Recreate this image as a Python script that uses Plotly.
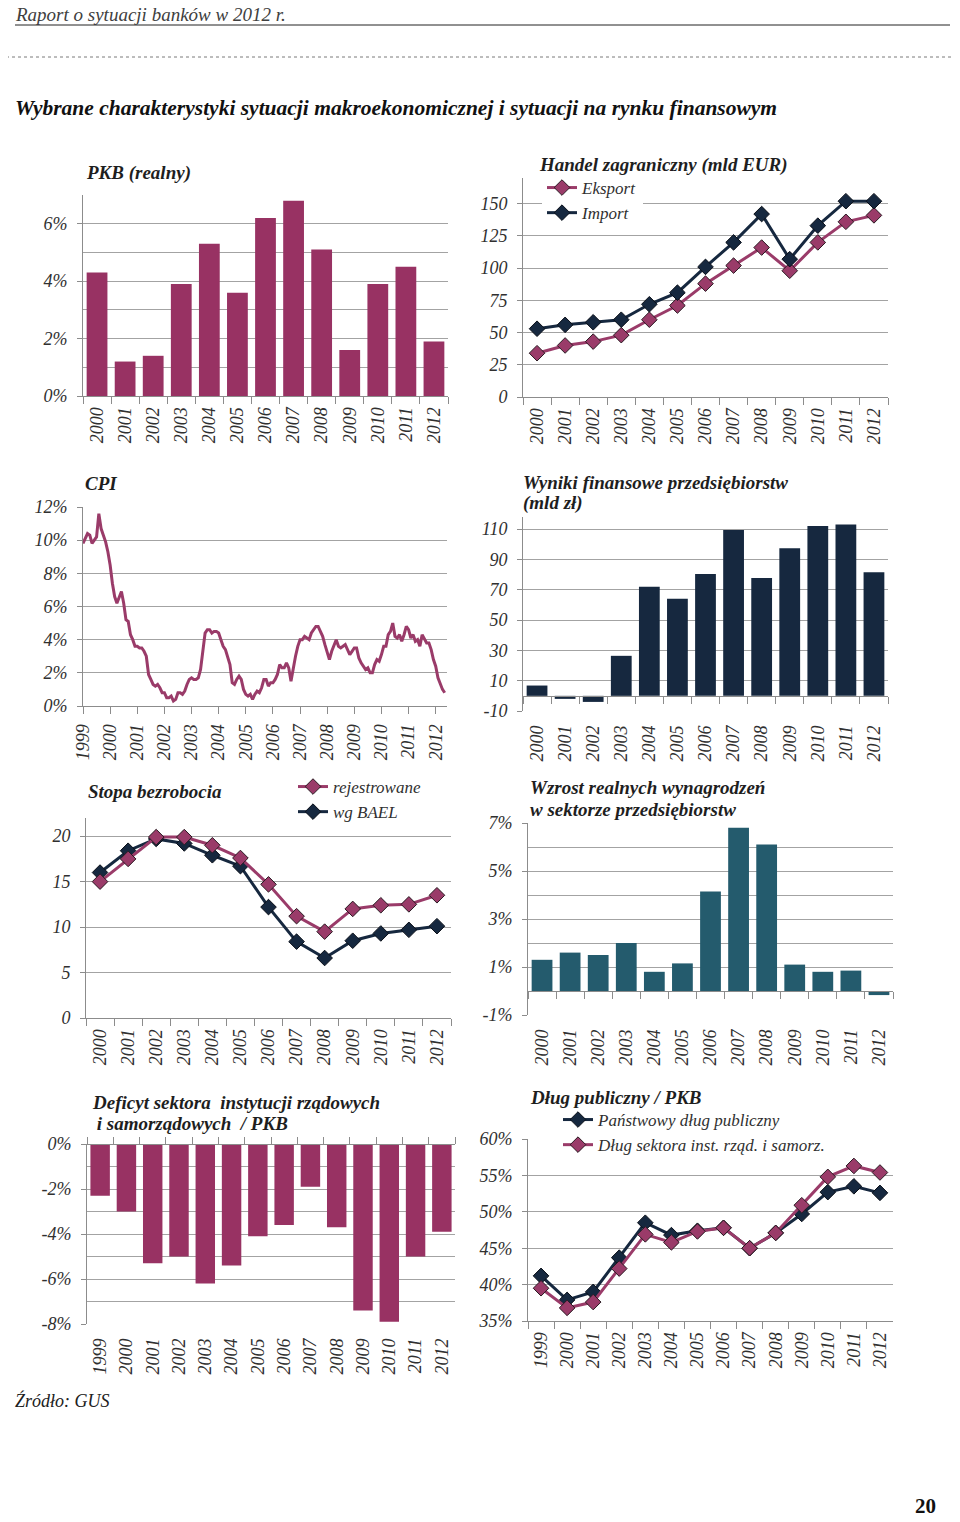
import plotly.graph_objects as go

W, H = 960, 1522

# ---------------- data ----------------
years_2000 = ["2000", "2001", "2002", "2003", "2004", "2005", "2006",
              "2007", "2008", "2009", "2010", "2011", "2012"]
years_1999 = ["1999", "2000", "2001", "2002", "2003", "2004", "2005",
              "2006", "2007", "2008", "2009", "2010", "2011", "2012"]

pkb_realny = [4.3, 1.2, 1.4, 3.9, 5.3, 3.6, 6.2, 6.8, 5.1, 1.6, 3.9, 4.5, 1.9]

eksport = [34, 40, 43, 48, 60, 71, 88, 102, 116, 98, 120, 136, 141]
import_ = [53, 56, 58, 60, 72, 81, 101, 120, 142, 107, 133, 152, 152]

cpi_monthly = [
    9.8,
    10.1, 10.4, 10.3, 9.8, 10.0, 10.2, 11.6, 10.7, 10.3, 9.9, 9.3, 8.5,
    7.4, 6.6, 6.2, 6.6, 6.9, 6.2, 5.2, 5.1, 4.3, 4.0, 3.6, 3.6,
    3.5, 3.5, 3.3, 3.0, 1.9, 1.6, 1.3, 1.2, 1.3, 1.1, 0.8, 0.8,
    0.5, 0.5, 0.6, 0.3, 0.4, 0.8, 0.8, 0.7, 0.9, 1.3, 1.6, 1.7,
    1.6, 1.6, 1.7, 2.2, 3.4, 4.4, 4.6, 4.6, 4.4, 4.5, 4.5, 4.4,
    4.0, 3.6, 3.4, 3.0, 2.5, 1.4, 1.3, 1.6, 1.8, 1.6, 1.0, 0.7,
    0.6, 0.7, 0.4, 0.7, 0.9, 0.8, 1.1, 1.6, 1.6, 1.2, 1.4, 1.4,
    1.6, 1.9, 2.5, 2.3, 2.3, 2.6, 2.3, 1.5, 2.3, 3.0, 3.6, 4.0,
    4.0, 4.2, 4.1, 4.0, 4.4, 4.6, 4.8, 4.8, 4.5, 4.2, 3.7, 3.3,
    2.8, 3.3, 3.6, 4.0, 3.6, 3.5, 3.6, 3.7, 3.4, 3.1, 3.3, 3.5,
    3.5, 2.9, 2.6, 2.4, 2.2, 2.3, 2.0, 2.0, 2.5, 2.8, 2.7, 3.1,
    3.6, 3.6, 4.3, 4.5, 5.0, 4.2, 4.1, 4.3, 3.9, 4.3, 4.8, 4.6,
    4.1, 4.3, 3.9, 4.0, 3.6, 4.3, 4.0, 3.8, 3.8, 3.4, 2.8, 2.4,
    1.7, 1.3, 1.0, 0.8,
]

wyniki_fin = [6.8, -2.0, -4.0, 26.4, 71.9, 64.0, 80.4, 109.5, 77.8, 97.4, 112.0, 113.0, 81.5]

bezrob_rejestrowane = [15.0, 17.5, 19.9, 19.9, 19.0, 17.6, 14.7, 11.2, 9.5, 12.0, 12.4, 12.5, 13.5]
bezrob_bael = [16.0, 18.4, 19.7, 19.2, 17.9, 16.7, 12.2, 8.4, 6.6, 8.5, 9.3, 9.7, 10.1]

wynagrodzenia = [1.3, 1.6, 1.5, 2.0, 0.8, 1.15, 4.15, 6.8, 6.1, 1.1, 0.8, 0.85, -0.17]

deficyt = [-2.3, -3.0, -5.3, -5.0, -6.2, -5.4, -4.1, -3.6, -1.9, -3.7, -7.4, -7.9, -5.0, -3.9]

dlug_panstwowy = [41.2, 37.9, 39.0, 43.7, 48.5, 46.8, 47.4, 47.8, 45.0, 47.1, 49.7, 52.7, 53.5, 52.6]
dlug_sektora = [39.5, 36.8, 37.6, 42.2, 46.9, 45.8, 47.3, 47.8, 45.0, 47.1, 50.9, 54.8, 56.3, 55.4]

# tick labels
pkb_ticks = [0, 2, 4, 6]
pkb_ticktext = ["0%", "2%", "4%", "6%"]
handel_ticks = [0, 25, 50, 75, 100, 125, 150]
handel_ticktext = ["0", "25", "50", "75", "100", "125", "150"]
cpi_ticks = [0, 2, 4, 6, 8, 10, 12]
cpi_ticktext = ["0%", "2%", "4%", "6%", "8%", "10%", "12%"]
wyniki_ticks = [-10, 10, 30, 50, 70, 90, 110]
wyniki_ticktext = ["-10", "10", "30", "50", "70", "90", "110"]
bezrob_ticks = [0, 5, 10, 15, 20]
bezrob_ticktext = ["0", "5", "10", "15", "20"]
wyn_ticks = [-1, 1, 3, 5, 7]
wyn_ticktext = ["-1%", "1%", "3%", "5%", "7%"]
def_ticks = [0, -2, -4, -6, -8]
def_ticktext = ["0%", "-2%", "-4%", "-6%", "-8%"]
dlug_ticks = [35, 40, 45, 50, 55, 60]
dlug_ticktext = ["35%", "40%", "45%", "50%", "55%", "60%"]

# ---------------- styles ----------------
PLUM = "#983263"
PLUM_LINE = "#9A3B69"
NAVY = "#16283F"
TEAL = "#245B6D"
GRID = "#A3A3A3"
AXC = "#8C8C8C"
FONT = "Liberation Serif"
TXT = "#303030"

TICKFONT = dict(family=FONT, size=18, color=TXT, style="italic")
XTICKFONT = dict(family=FONT, size=18, color=TXT, style="italic")
TITLEFONT = dict(family=FONT, size=19, color="#1E1E1E", style="italic", weight="bold")
LEGFONT = dict(family=FONT, size=17, color=TXT, style="italic")


def xd(l, r):
    return [l / W, r / W]


def yd(t, b):
    return [1 - b / H, 1 - t / H]


def yaxis(dom, anchor, rng, tv, tt, minor=None):
    d = dict(domain=dom, anchor=anchor, range=rng, tickmode="array", tickvals=tv, ticktext=tt,
             showgrid=True, gridcolor=GRID, gridwidth=1, showline=True, linecolor=AXC, linewidth=1,
             ticks="outside", ticklen=5, tickcolor=AXC, tickfont=TICKFONT, zeroline=False,
             fixedrange=True, ticklabelstandoff=6)
    if minor is not None:
        d["minor"] = dict(tick0=minor[0], dtick=minor[1], showgrid=True, gridcolor=GRID,
                          gridwidth=1, ticks="")
    return d


def xcat(dom, anchor, n, line=True, ticks=True):
    return dict(domain=dom, anchor=anchor, type="category", range=[-0.5, n - 0.5],
                tickson="boundaries", ticks="outside" if ticks else "", ticklen=7, tickcolor=AXC,
                showline=line, linecolor=AXC, linewidth=1, showgrid=False, tickangle=-90,
                tickfont=XTICKFONT, fixedrange=True, zeroline=False,
                ticklabelstandoff=3 if ticks else 10)


def xtickline(dom, overlay, n, position, side="bottom"):
    return dict(domain=dom, overlaying=overlay, anchor="free", position=position, side=side,
                range=[-0.5, n - 0.5], tickmode="linear", tick0=-0.5, dtick=1, ticks="outside",
                ticklen=7, tickcolor=AXC, showline=True, linecolor=AXC, linewidth=1,
                showticklabels=False, showgrid=False, zeroline=False, fixedrange=True)


fig = go.Figure()
# size comes from the page div (960x1522), see write_html below
layout = dict(margin=dict(l=0, r=0, t=0, b=0, autoexpand=False),
              paper_bgcolor="white", plot_bgcolor="rgba(0,0,0,0)", showlegend=True,
              bargap=0.26)

n13 = len(years_2000)
n14 = len(years_1999)

# panel geometry (pixels)
P = {
    1: (83, 448, 195, 396),    # PKB
    2: (523, 888, 178, 397),   # Handel
    3: (83, 447, 507, 706),    # CPI
    4: (523, 888, 517, 711),   # Wyniki
    5: (86, 451, 818, 1018),   # Stopa bezrobocia
    6: (528, 893, 823, 1015),  # Wynagrodzenia
    7: (87, 455, 1144, 1324),  # Deficyt
    8: (528, 893, 1139, 1321), # Dlug
}

def dom(i):
    l, r, t, b = P[i]
    return xd(l, r), yd(t, b)

MK_PLUM = dict(symbol="diamond", size=12, color=PLUM_LINE, line=dict(color="#2A1A22", width=1))
MK_NAVY = dict(symbol="diamond", size=12, color=NAVY, line=dict(color="#0A0F18", width=1))

# 1. PKB
xdm, ydm = dom(1)
fig.add_trace(go.Bar(x=years_2000, y=pkb_realny, marker=dict(color=PLUM, line=dict(width=0)),
                     xaxis="x", yaxis="y", showlegend=False))
layout["xaxis"] = xcat(xdm, "y", n13)
layout["yaxis"] = yaxis(ydm, "x", [0, 7], pkb_ticks, pkb_ticktext, minor=(0, 1))

# 2. Handel
xdm, ydm = dom(2)
fig.add_trace(go.Scatter(x=years_2000, y=eksport, name="Eksport", mode="lines+markers",
                         line=dict(color=PLUM_LINE, width=3), marker=MK_PLUM,
                         xaxis="x2", yaxis="y2", legend="legend"))
fig.add_trace(go.Scatter(x=years_2000, y=import_, name="Import", mode="lines+markers",
                         line=dict(color=NAVY, width=3), marker=MK_NAVY,
                         xaxis="x2", yaxis="y2", legend="legend"))
layout["xaxis2"] = xcat(xdm, "y2", n13)
layout["yaxis2"] = yaxis(ydm, "x2", [0, 170], handel_ticks, handel_ticktext)

# 3. CPI
xdm, ydm = dom(3)
cpi_x = list(range(len(cpi_monthly)))
fig.add_trace(go.Scatter(x=cpi_x, y=cpi_monthly, mode="lines",
                         line=dict(color=PLUM_LINE, width=3), xaxis="x3", yaxis="y3",
                         showlegend=False))
layout["xaxis3"] = dict(domain=xdm, anchor="y3", range=[0, len(cpi_monthly)],
                        tickmode="array", tickvals=[12 * i for i in range(n14)],
                        ticktext=years_1999, ticks="outside", ticklen=7, tickcolor=AXC,
                        showline=True, linecolor=AXC, linewidth=1, showgrid=False,
                        tickangle=-90, tickfont=XTICKFONT, zeroline=False, fixedrange=True,
                        ticklabelstandoff=3)
layout["yaxis3"] = yaxis(ydm, "x3", [0, 12], cpi_ticks, cpi_ticktext)

# 4. Wyniki finansowe
xdm, ydm = dom(4)
fig.add_trace(go.Bar(x=years_2000, y=wyniki_fin, marker=dict(color=NAVY, line=dict(width=0)),
                     xaxis="x4", yaxis="y4", showlegend=False))
layout["xaxis4"] = xcat(xdm, "y4", n13, line=False, ticks=False)
w_rng = [-10, 118]
layout["yaxis4"] = yaxis(ydm, "x4", w_rng, wyniki_ticks, wyniki_ticktext)
zero_pos4 = ydm[0] + (0 - w_rng[0]) / (w_rng[1] - w_rng[0]) * (ydm[1] - ydm[0])
fig.add_trace(go.Scatter(x=[None], y=[None], xaxis="x9", yaxis="y4", showlegend=False,
                         hoverinfo="skip"))
layout["xaxis9"] = xtickline(xdm, "x4", n13, zero_pos4)

# 5. Stopa bezrobocia
xdm, ydm = dom(5)
fig.add_trace(go.Scatter(x=years_2000, y=bezrob_bael, name="wg BAEL", mode="lines+markers",
                         line=dict(color=NAVY, width=3), marker=MK_NAVY,
                         xaxis="x5", yaxis="y5", legend="legend2"))
fig.add_trace(go.Scatter(x=years_2000, y=bezrob_rejestrowane, name="rejestrowane",
                         mode="lines+markers", line=dict(color=PLUM_LINE, width=3),
                         marker=MK_PLUM, xaxis="x5", yaxis="y5", legend="legend2"))
layout["xaxis5"] = xcat(xdm, "y5", n13)
layout["yaxis5"] = yaxis(ydm, "x5", [0, 22], bezrob_ticks, bezrob_ticktext)

# 6. Wynagrodzenia
xdm, ydm = dom(6)
fig.add_trace(go.Bar(x=years_2000, y=wynagrodzenia, marker=dict(color=TEAL, line=dict(width=0)),
                     xaxis="x6", yaxis="y6", showlegend=False))
layout["xaxis6"] = xcat(xdm, "y6", n13, line=False, ticks=False)
p_rng = [-1, 7]
layout["yaxis6"] = yaxis(ydm, "x6", p_rng, wyn_ticks, wyn_ticktext, minor=(0, 1))
zero_pos6 = ydm[0] + (0 - p_rng[0]) / (p_rng[1] - p_rng[0]) * (ydm[1] - ydm[0])
fig.add_trace(go.Scatter(x=[None], y=[None], xaxis="x10", yaxis="y6", showlegend=False,
                         hoverinfo="skip"))
layout["xaxis10"] = xtickline(xdm, "x6", n13, zero_pos6)

# 7. Deficyt
xdm, ydm = dom(7)
fig.add_trace(go.Bar(x=years_1999, y=deficyt, marker=dict(color=PLUM, line=dict(width=0)),
                     xaxis="x7", yaxis="y7", showlegend=False))
layout["xaxis7"] = xcat(xdm, "y7", n14, line=False, ticks=False)
layout["yaxis7"] = yaxis(ydm, "x7", [-8, 0], def_ticks, def_ticktext, minor=(0, 1))
fig.add_trace(go.Scatter(x=[None], y=[None], xaxis="x11", yaxis="y7", showlegend=False,
                         hoverinfo="skip"))
layout["xaxis11"] = xtickline(xdm, "x7", n14, ydm[1], side="top")

# 8. Dlug publiczny
xdm, ydm = dom(8)
fig.add_trace(go.Scatter(x=years_1999, y=dlug_panstwowy, name="Państwowy dług publiczny",
                         mode="lines+markers", line=dict(color=NAVY, width=3), marker=MK_NAVY,
                         xaxis="x8", yaxis="y8", legend="legend3"))
fig.add_trace(go.Scatter(x=years_1999, y=dlug_sektora, name="Dług sektora inst. rząd. i samorz.",
                         mode="lines+markers", line=dict(color=PLUM_LINE, width=3),
                         marker=MK_PLUM, xaxis="x8", yaxis="y8", legend="legend3"))
layout["xaxis8"] = xcat(xdm, "y8", n14)
layout["yaxis8"] = yaxis(ydm, "x8", [35, 60], dlug_ticks, dlug_ticktext)

# legends
def legend(px, py, reverse=False):
    return dict(x=px / W, y=1 - py / H, xanchor="left", yanchor="top", bgcolor="white",
                borderwidth=0, font=LEGFONT, tracegroupgap=0, itemwidth=30,
                traceorder="reversed" if reverse else "normal", itemclick=False,
                itemdoubleclick=False)

layout["legend"] = legend(542, 170)
layout["legend2"] = legend(293, 769, reverse=True)
layout["legend3"] = legend(558, 1102)

# ---------------- annotations ----------------
ann = []

def text(s, px, py, font, xanchor="left"):
    ann.append(dict(text=s, x=px / W, y=1 - py / H, xref="paper", yref="paper",
                    xanchor=xanchor, yanchor="middle", showarrow=False, font=font))

text("Raport o sytuacji banków w 2012 r.", 13, 14,
     dict(family=FONT, size=19, color="#404040", style="italic"))
text("Wybrane charakterystyki sytuacji makroekonomicznej i sytuacji na rynku finansowym", 13, 108,
     dict(family=FONT, size=21.5, color="#111111", style="italic", weight="bold"))
text("PKB (realny)", 84, 173, TITLEFONT)
text("Handel zagraniczny (mld EUR)", 537, 165, TITLEFONT)
text("CPI", 83, 483, TITLEFONT)
text("Wyniki finansowe przedsiębiorstw", 521, 482, TITLEFONT)
text("(mld zł)", 521, 503, TITLEFONT)
text("Stopa bezrobocia", 86, 791, TITLEFONT)
text("Wzrost realnych wynagrodzeń", 528, 788, TITLEFONT)
text("w sektorze przedsiębiorstw", 528, 809, TITLEFONT)
text("Deficyt sektora  instytucji rządowych", 90, 1102, TITLEFONT)
text(" i samorządowych  / PKB", 90, 1123, TITLEFONT)
text("Dług publiczny / PKB", 528, 1097, TITLEFONT)
text("Źródło: GUS", 13, 1400, dict(family=FONT, size=18, color="#202020", style="italic"))
text("20", 938, 1506, dict(family=FONT, size=21, color="#111111", weight="bold"),
     xanchor="right")
layout["annotations"] = ann

# ---------------- page decorations ----------------
def line_shape(x0, y0, x1, y1, color, dash="solid", width=1.0):
    return dict(type="line", xref="paper", yref="paper", x0=x0 / W, x1=x1 / W,
                y0=1 - y0 / H, y1=1 - y1 / H, line=dict(color=color, width=width, dash=dash),
                layer="below")

layout["shapes"] = [
    line_shape(15, 25, 950, 25, "#222222"),
    line_shape(6, 57, 954, 57, "#7A7A7A", "dot"),
    line_shape(6, 57, 6, 1446, "#7A7A7A", "dot", 1.5),
    line_shape(954, 57, 954, 1446, "#7A7A7A", "dot", 1.5),
]

fig.update_layout(**layout)

# The plot div is sized to the full window; the negative margin cancels the
# browser's default 8px body margin so the figure sits at the page origin.
fig.write_html("out.html", config={"displayModeBar": False},
               default_width="960px;margin:-8px", default_height="1522px")
